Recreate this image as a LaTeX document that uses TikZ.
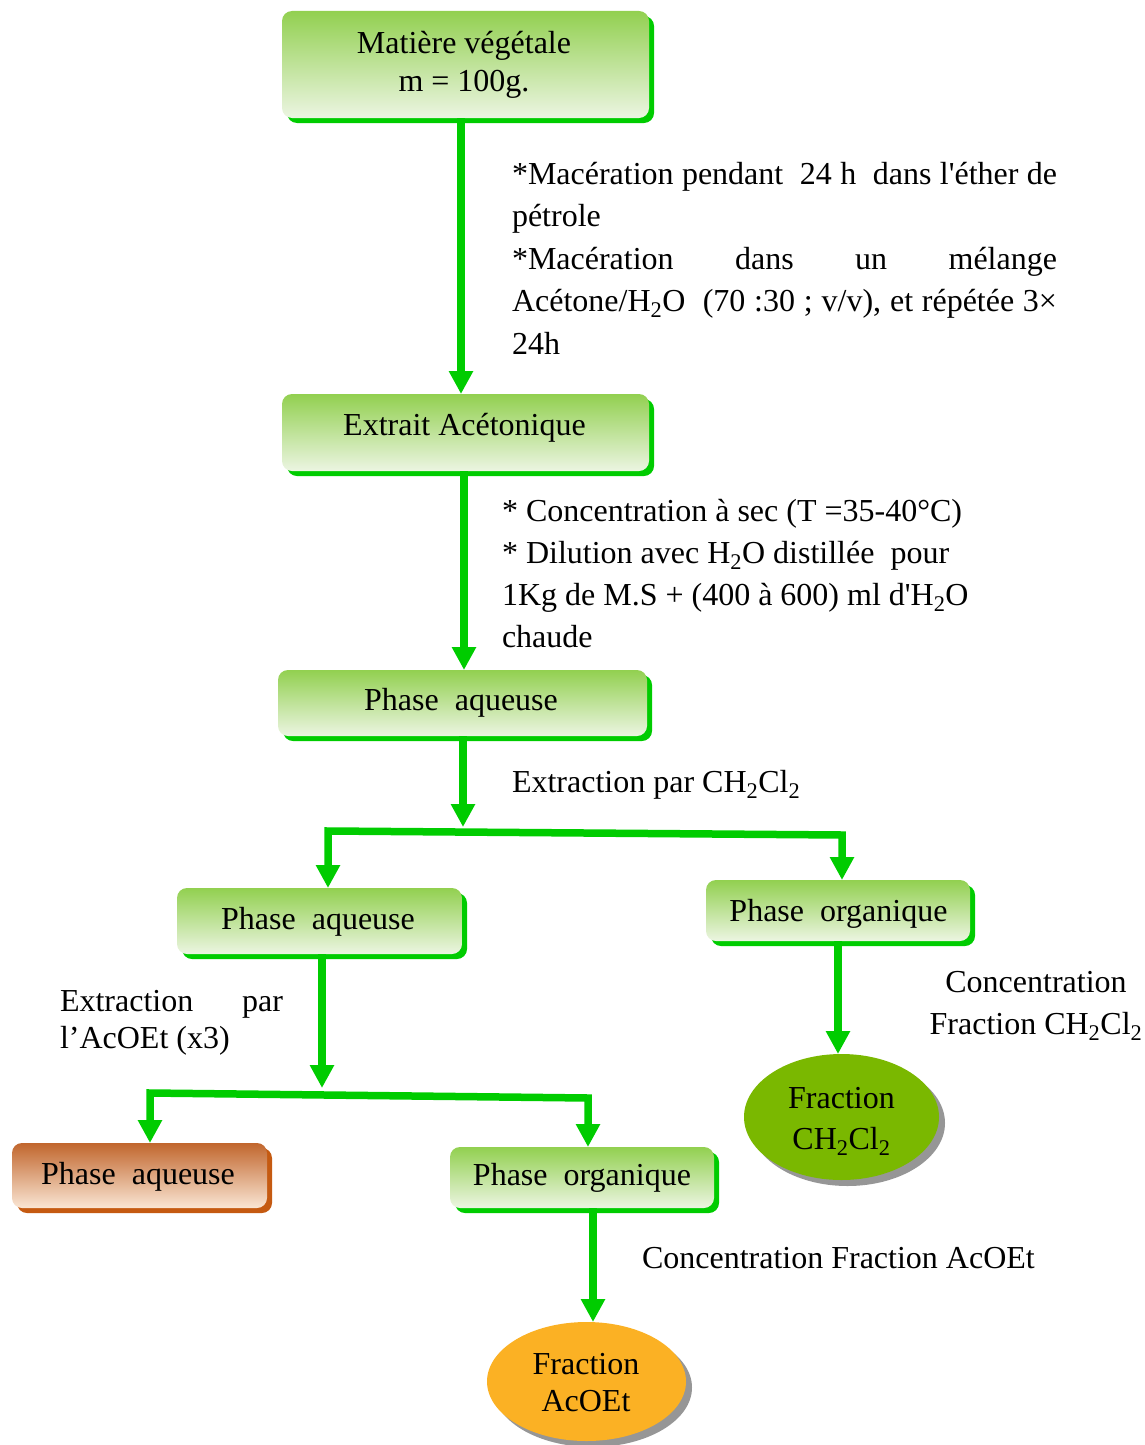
\documentclass[tikz,border=0pt]{standalone}
\usepackage{fontspec}
\setmainfont{Liberation Serif}[Ligatures=TeXOff]
\usetikzlibrary{arrows.meta,shapes.geometric,shadows}

\definecolor{flow}{RGB}{0,204,0}
\definecolor{gtop}{RGB}{146,208,80}
\definecolor{gbot}{RGB}{236,245,226}
\definecolor{otop}{RGB}{193,102,45}
\definecolor{obot}{RGB}{250,230,212}
\definecolor{oshade}{RGB}{197,90,17}
\definecolor{egreen}{RGB}{122,184,0}
\definecolor{eorange}{RGB}{251,177,36}
\definecolor{eshade}{RGB}{150,150,150}

\begin{document}
\begin{tikzpicture}[x=1pt,y=-1pt,
  every node/.style={inner sep=0pt, outer sep=0pt, font=\fontsize{32}{42.5}\selectfont},
  boxbase/.style={rectangle, rounded corners=10pt},
  stepbox/.style={boxbase, top color=gtop, bottom color=gbot,
    drop shadow={shadow xshift=5pt, shadow yshift=-5pt, opacity=1, fill=flow}},
  restbox/.style={boxbase, top color=otop, bottom color=obot,
    drop shadow={shadow xshift=5pt, shadow yshift=-5pt, opacity=1, fill=oshade}},
  fraction/.style={ellipse,
    drop shadow={shadow xshift=6pt, shadow yshift=-6pt, opacity=1, fill=eshade}},
  flowline/.style={draw=flow, line width=7.5pt},
  tip/.style={-{Triangle[width=23pt,length=23pt]}},
  bothtips/.style={{Triangle[width=23pt,length=23pt]}-{Triangle[width=23pt,length=23pt]}}
]
\useasboundingbox (0,0) rectangle (1145,1445);

% boxes of the extraction scheme
\node[stepbox, minimum width=367pt, minimum height=107pt] (b1) at (465.5,64.5) {};
\node[stepbox, minimum width=367pt, minimum height=77pt]  (b2) at (465.5,432.5) {};
\node[stepbox, minimum width=369pt, minimum height=66pt]  (b3) at (462.5,703) {};
\node[stepbox, minimum width=285pt, minimum height=66pt]  (b4) at (319.5,921) {};
\node[stepbox, minimum width=264pt, minimum height=61pt]  (b5) at (838,910.5) {};
\node[restbox, minimum width=255pt, minimum height=65pt]  (b6) at (139.5,1175.5) {};
\node[stepbox, minimum width=264pt, minimum height=61pt]  (b7) at (582,1177.5) {};

% final fractions
\node[fraction, fill=egreen, minimum width=195pt, minimum height=126pt] (e1) at (841.5,1117) {};
\node[fraction, fill=eorange, minimum width=199pt, minimum height=119pt] (e2) at (586.5,1381.5) {};

% box labels
\node[anchor=base] (b1t) at (464,54) {\parbox[t]{340pt}{\centering\fontsize{32}{37}\selectfont Matière végétale\\ m = 100g.}};
\node[anchor=base] (b2t) at (464.5,435.5) {Extrait Acétonique};
\node[anchor=base] (b3t) at (461,710) {Phase\ \ aqueuse};
\node[anchor=base] (b4t) at (318,929) {Phase\ \ aqueuse};
\node[anchor=base] (b5t) at (838.5,921) {Phase\ \ organique};
\node[anchor=base] (b6t) at (138,1184) {Phase\ \ aqueuse};
\node[anchor=base] (b7t) at (582,1185) {Phase\ \ organique};
\node[anchor=base] (e1t) at (841.5,1108) {\parbox[t]{160pt}{\centering\fontsize{32}{41}\selectfont Fraction\\ CH\textsubscript{2}Cl\textsubscript{2}}};
\node[anchor=base] (e2t) at (586,1374) {\parbox[t]{160pt}{\centering\fontsize{32}{37}\selectfont Fraction\\ AcOEt}};

% operating conditions
\node[anchor=base west] (c1) at (512,184) {\parbox[t]{545pt}{\fontsize{32}{42.5}\selectfont
  \makebox[545pt][s]{*Macération pendant\ \ 24 h\ \ dans l'éther de}\\
  pétrole\\
  \makebox[545pt][s]{*Macération dans un mélange}\\
  \makebox[545pt][s]{Acétone/H\textsubscript{2}O\ \ (70 :30 ; v/v), et répétée 3×}\\
  24h}};
\node[anchor=base west] (c2) at (502,521) {\parbox[t]{520pt}{\raggedright\fontsize{32}{42.3}\selectfont
  * Concentration à sec (T =35-40°C)\\{}%
  * Dilution avec H\textsubscript{2}O distillée\ \ pour\\
  1Kg de M.S + (400 à 600) ml d'H\textsubscript{2}O\\
  chaude}};
\node[anchor=base west] (c3) at (512,792) {Extraction par CH\textsubscript{2}Cl\textsubscript{2}};
\node[anchor=base west] (c4) at (60,1011) {\parbox[t]{223pt}{\fontsize{32}{37}\selectfont
  \makebox[223pt][s]{Extraction par}\\
  l’AcOEt (x3)}};
\node[anchor=base] (c5) at (1036,992) {\parbox[t]{230pt}{\centering\fontsize{32}{42}\selectfont Concentration\\ Fraction CH\textsubscript{2}Cl\textsubscript{2}}};
\node[anchor=base west] (c6) at (642,1268) {Concentration Fraction AcOEt};

% split points
\coordinate (s1) at (463,827);
\coordinate (h1l) at (328,831);
\coordinate (h1r) at (842,835);
\coordinate (s2) at (322,1088);
\coordinate (h2l) at (150,1093);
\coordinate (h2r) at (588,1098);

% connectors
\draw[flowline, tip] ([xshift=-4.5pt]b1.south) -- ([xshift=-4.5pt]b2.north);
\draw[flowline, tip] ([xshift=-1.5pt]b2.south) -- ([xshift=1.5pt]b3.north);
\draw[flowline, tip] ([xshift=0.5pt]b3.south) -- (s1);
\draw[flowline, bothtips] (h1l |- b4.north) -- (h1l) -- (h1r) -- (h1r |- b5.north);
\draw[flowline, tip] ([xshift=2.5pt]b4.south) -- (s2);
\draw[flowline, bothtips] (h2l |- b6.north) -- (h2l) -- (h2r) -- (h2r |- b7.north);
\draw[flowline, tip] (b5.south) -- ([xshift=-3.5pt]e1.north);
\draw[flowline, tip] ([xshift=11pt]b7.south) -- ([xshift=6.5pt]e2.north);
\end{tikzpicture}
\end{document}
